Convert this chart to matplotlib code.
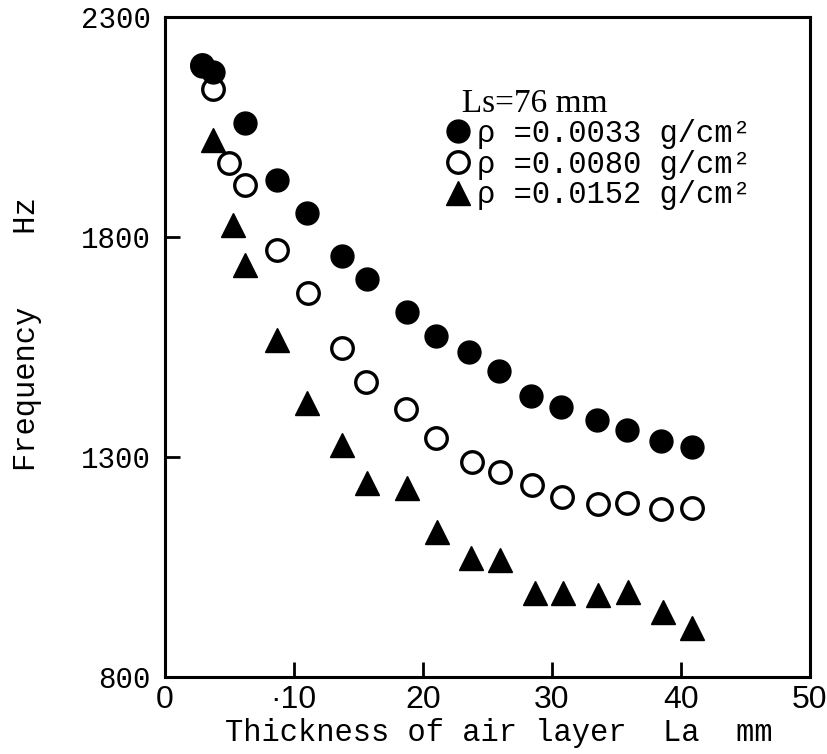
import matplotlib
matplotlib.use('Agg')
from matplotlib import pyplot as plt

# air layer thickness La (mm) and frequency (Hz)
la_a = [2.9, 3.7, 6.2, 8.7, 11.0, 13.7, 15.7, 18.8, 21.0, 23.6, 25.9, 28.4, 30.7, 33.5, 35.8, 38.5, 40.9]
f_a = [2188, 2175, 2059, 1930, 1855, 1757, 1705, 1630, 1575, 1539, 1495, 1439, 1414, 1384, 1361, 1336, 1323]

la_b = [2.9, 3.7, 5.0, 6.2, 8.7, 11.1, 13.7, 15.6, 18.7, 21.0, 23.8, 26.0, 28.5, 30.8, 33.6, 35.8, 38.5, 40.9]
f_b = [2190, 2136, 1968, 1918, 1770, 1673, 1548, 1470, 1409, 1343, 1289, 1266, 1236, 1209, 1193, 1195, 1182, 1184]

la_c = [3.7, 5.3, 6.2, 8.7, 11.0, 13.7, 15.7, 18.8, 21.1, 23.7, 26.0, 28.7, 30.9, 33.6, 35.9, 38.6, 40.9]
f_c = [2020, 1827, 1736, 1566, 1423, 1327, 1241, 1230, 1130, 1070, 1066, 991, 991, 986, 993, 948, 911]

labels = ['\u03c1 =0.0033 g/cm\u00b2', '\u03c1 =0.0080 g/cm\u00b2', '\u03c1 =0.0152 g/cm\u00b2']
xticks = [0, 10, 20, 30, 40, 50]
xticklabels = ['0', '\u00b710', '20', '30', '40', '50']
yticks = [800, 1300, 1800, 2300]

mono = ['Liberation Mono', 'DejaVu Sans Mono']
narrow = ['Liberation Sans Narrow', 'Liberation Sans', 'DejaVu Sans']

fig = plt.figure(figsize=(8.28, 7.54), dpi=100)
ax = fig.add_axes([0.199, 0.102, 0.779, 0.876])

ax.plot(la_b, f_b, linestyle='none', marker='o', ms=15.5, mfc='white', mec='black', mew=2.4, label=labels[1])
ax.plot(la_a, f_a, linestyle='none', marker='o', ms=16.5, mfc='black', mec='black', label=labels[0])
ax.plot(la_c, f_c, linestyle='none', marker='^', ms=17, mfc='black', mec='black', label=labels[2])

ax.set_xlim(0, 50)
ax.set_ylim(800, 2300)
ax.set_xticks(xticks)
ax.set_xticklabels(xticklabels, fontfamily=narrow, fontsize=23)
ax.set_yticks(yticks)
ax.set_yticklabels([str(v) for v in yticks], fontfamily=mono, fontsize=21)
ax.tick_params(direction='in', length=11, width=2)
ax.tick_params(axis='y', pad=10)
ax.tick_params(axis='x', pad=6)
for s in ax.spines.values():
    s.set_linewidth(2.2)

ax.set_xlabel('Thickness of air layer  La  mm', fontfamily=mono, fontsize=22, labelpad=2)
ax.xaxis.label.set_x(0.518)
ax.set_ylabel('Frequency    Hz', fontfamily=mono, fontsize=22)
ax.yaxis.set_label_coords(-0.19, 0.52)

h, l = ax.get_legend_handles_labels()
order = [1, 0, 2]
leg = ax.legend([h[i] for i in order], [l[i] for i in order],
                title='  Ls=76 mm', loc='upper left', bbox_to_anchor=(0.41, 0.915),
                frameon=False, handlelength=0.9, handletextpad=0.15, labelspacing=0.02,
                borderpad=0, alignment='left', prop={'family': mono, 'size': 22})
leg.get_title().set_fontfamily(['Liberation Serif', 'DejaVu Serif'])
leg.get_title().set_fontsize(24)

fig.savefig('out.png', dpi=100)
